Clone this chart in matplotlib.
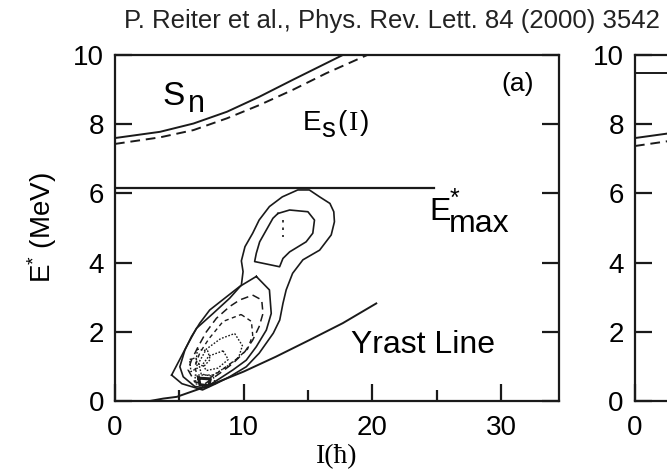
import matplotlib
matplotlib.use("Agg")
import matplotlib.pyplot as plt

plt.rcParams["font.family"] = ["Liberation Sans", "DejaVu Sans"]
plt.rcParams["mathtext.fontset"] = "custom"
plt.rcParams["mathtext.rm"] = "Liberation Sans"
plt.rcParams["mathtext.it"] = "Liberation Sans:italic"

INK = "#1a1a1a"

# neutron separation energy S_n and fission barrier E_s(I)
sn_spin = [0.0, 3.5, 6.1, 8.7, 11.2, 13.8, 16.4, 17.7]
sn_energy = [7.60, 7.78, 8.02, 8.36, 8.79, 9.28, 9.76, 10.0]
es_spin = [0.0, 3.5, 6.1, 8.7, 11.2, 13.8, 16.4, 19.6]
es_energy = [7.43, 7.62, 7.83, 8.17, 8.55, 8.99, 9.47, 10.0]

# yrast line
yrast_spin = [2.7, 3.75, 4.8, 7.4, 10.0, 12.5, 15.1, 17.7, 20.3]
yrast_energy = [0.0, 0.07, 0.12, 0.46, 0.85, 1.28, 1.76, 2.25, 2.82]

# entry distribution limit
emax_spin = [0.0, 24.8]
emax_energy = [6.15, 6.15]

# panel (b) pieces that show at the right edge
b_line_spin = [0.0, 5.0]
b_line_energy = [9.48, 9.48]
b_es_energy = [7.37, 7.56, 7.78, 8.12, 8.50, 8.94, 9.42, 9.95]

# contour outlines (spin, energy)
outer_contour = [(4.4, 0.75), (5.55, 1.57), (6.33, 2.10), (7.62, 2.53), (8.91, 2.97),
                 (9.82, 3.35), (9.95, 3.74), (9.82, 4.05), (10.1, 4.46), (10.7, 4.85),
                 (11.2, 5.23), (12.0, 5.62), (13.0, 5.90), (14.2, 6.10), (15.1, 6.10),
                 (15.9, 5.90), (16.7, 5.71), (17.0, 5.47), (17.05, 5.18), (16.8, 4.80),
                 (15.9, 4.36), (14.6, 4.08), (13.8, 3.69), (13.3, 3.21), (13.05, 2.82),
                 (12.8, 2.34), (12.3, 1.96), (11.2, 1.38), (10.2, 0.99), (8.9, 0.70),
                 (7.9, 0.51), (6.8, 0.32), (5.2, 0.50)]
island_contour = [(12.66, 5.42), (13.57, 5.52), (14.99, 5.47), (15.5, 5.23), (15.37, 4.85),
                  (14.85, 4.60), (13.57, 4.31), (13.05, 4.12), (12.79, 3.88), (11.5, 3.98),
                  (10.85, 4.03), (10.98, 4.27), (11.24, 4.60), (12.27, 5.28)]
lower_contour = [(10.98, 3.60), (12.0, 3.21), (12.14, 2.53), (11.76, 2.05), (10.98, 1.57),
                 (10.2, 1.18), (9.17, 0.90), (8.14, 0.65), (7.0, 0.38), (6.2, 0.42),
                 (5.3, 0.70), (5.04, 0.99), (5.43, 1.47), (5.94, 1.86), (6.59, 2.25),
                 (7.36, 2.63), (8.66, 3.01), (9.69, 3.31)]
dashed_contour_1 = [(10.7, 3.06), (11.4, 2.92), (11.5, 2.53), (11.2, 2.15), (10.7, 1.76),
                    (10.1, 1.43), (9.17, 1.09), (8.14, 0.80), (7.0, 0.50), (6.2, 0.55),
                    (5.68, 0.90), (5.94, 1.18), (6.46, 1.57), (7.1, 2.0), (7.88, 2.39),
                    (8.91, 2.73), (9.69, 2.92)]
dashed_contour_2 = [(9.8, 2.5), (10.6, 2.3), (10.7, 1.9), (10.3, 1.5), (9.4, 1.2), (8.3, 0.9),
                    (7.2, 0.62), (6.4, 0.7), (6.2, 1.0), (6.6, 1.4), (7.3, 1.8), (8.4, 2.3)]
dotted_contours = [
    [(9.3, 1.95), (9.9, 1.6), (9.6, 1.25), (8.7, 1.0), (7.5, 0.72), (6.7, 0.78),
     (6.5, 1.1), (7.1, 1.5), (8.2, 1.8)],
    [(8.4, 1.45), (8.8, 1.2), (8.0, 0.95), (7.1, 0.88), (6.8, 1.05), (7.3, 1.3)],
    [(6.4, 1.5), (7.2, 1.45), (7.4, 1.2), (6.9, 1.0), (6.3, 1.1)],
    [(5.8, 1.2), (6.3, 1.25), (6.4, 0.95), (5.9, 0.85)],
    [(6.2, 0.75), (7.6, 0.75), (7.8, 0.5), (7.0, 0.38), (6.3, 0.5)],
]
core_contour = [(6.5, 0.66), (7.4, 0.64), (7.3, 0.44), (6.6, 0.47)]

island_dots_spin = [13.05, 13.05]
island_dots_energy = [5.23, 4.75]


def draw_loop(ax, pts, **kw):
    xs = [p[0] for p in pts] + [pts[0][0]]
    ys = [p[1] for p in pts] + [pts[0][1]]
    ax.plot(xs, ys, color=INK, **kw)


def style_axes(ax):
    ax.set_xlim(0, 34.5)
    ax.set_ylim(0, 10)
    for s in ax.spines.values():
        s.set_linewidth(1.6)
        s.set_color(INK)
    ax.set_xticks([0, 10, 20, 30])
    ax.set_xticks([5, 15, 25], minor=True)
    ax.set_yticks([0, 2, 4, 6, 8, 10])
    ax.tick_params(axis="both", which="major", direction="in", length=12, width=1.6,
                   color=INK, labelsize=20, labelcolor="black")
    ax.tick_params(axis="x", which="major", pad=10, top=False)
    ax.tick_params(axis="x", which="minor", direction="in", length=8, width=1.6,
                   color=INK, top=False)
    ax.tick_params(axis="y", which="major", pad=8, right=True)


fig = plt.figure(figsize=(6.67, 4.75), dpi=100)
ax = fig.add_axes([0.1724, 0.1558, 0.6657, 0.7284])
axb = fig.add_axes([0.952, 0.1558, 0.6657, 0.7284])
style_axes(ax)
style_axes(axb)
axb.set_xticklabels(["0", "", "", ""])

# panel (a)
ax.plot(sn_spin, sn_energy, color=INK, lw=1.4)
ax.plot(es_spin, es_energy, color=INK, lw=1.4, linestyle=(0, (5, 3)))
ax.plot(yrast_spin, yrast_energy, color=INK, lw=1.4)
ax.plot(emax_spin, emax_energy, color=INK, lw=1.6)

draw_loop(ax, outer_contour, lw=1.2)
draw_loop(ax, island_contour, lw=1.2)
draw_loop(ax, lower_contour, lw=1.2)
draw_loop(ax, dashed_contour_1, lw=1.1, linestyle=(0, (5, 3)))
draw_loop(ax, dashed_contour_2, lw=1.0, linestyle=(0, (3, 2.5)))
for loop in dotted_contours:
    draw_loop(ax, loop, lw=1.0, linestyle=(0, (1.2, 1.2)))
draw_loop(ax, core_contour, lw=2.2)
ax.plot(island_dots_spin, island_dots_energy, color=INK, lw=1.2, linestyle=(0, (1.5, 3)))

ax.text(3.7, 8.55, "S", fontsize=24, color="black")
ax.text(5.65, 8.35, "n", fontsize=22, color="black")
ax.text(14.55, 7.83, "E", fontsize=20, color="black")
ax.text(16.05, 7.63, "s", fontsize=20, color="black")
ax.text(17.3, 7.83, "(", fontsize=20, color="black")
ax.text(18.2, 7.83, "I", fontsize=20, color="black", family="Liberation Serif")
ax.text(19.0, 7.83, ")", fontsize=20, color="black")
ax.text(24.45, 5.23, "E", fontsize=23, color="black")
ax.text(26.0, 5.65, "*", fontsize=18, color="black")
ax.text(25.95, 4.88, "max", fontsize=23, color="black")
ax.text(18.35, 1.39, "Yrast Line", fontsize=23, color="black")
ax.text(30.0, 8.95, "(a)", fontsize=19, color="black")

ax.set_xlabel("I(ħ)", fontsize=20, family="Liberation Serif", labelpad=2)
ax.set_ylabel("E$^{*}$ (MeV)", fontsize=20, labelpad=10)

# panel (b), only its left edge fits in the frame
axb.plot(sn_spin, sn_energy, color=INK, lw=1.4)
axb.plot(es_spin, b_es_energy, color=INK, lw=1.4, linestyle=(0, (5, 3)))
axb.plot(b_line_spin, b_line_energy, color=INK, lw=1.4)

fig.text(0.99, 0.941, "P. Reiter et al., Phys. Rev. Lett. 84 (2000) 3542",
         fontsize=18.5, ha="right", va="baseline", color="#222222")

fig.savefig("out.png", dpi=100)
